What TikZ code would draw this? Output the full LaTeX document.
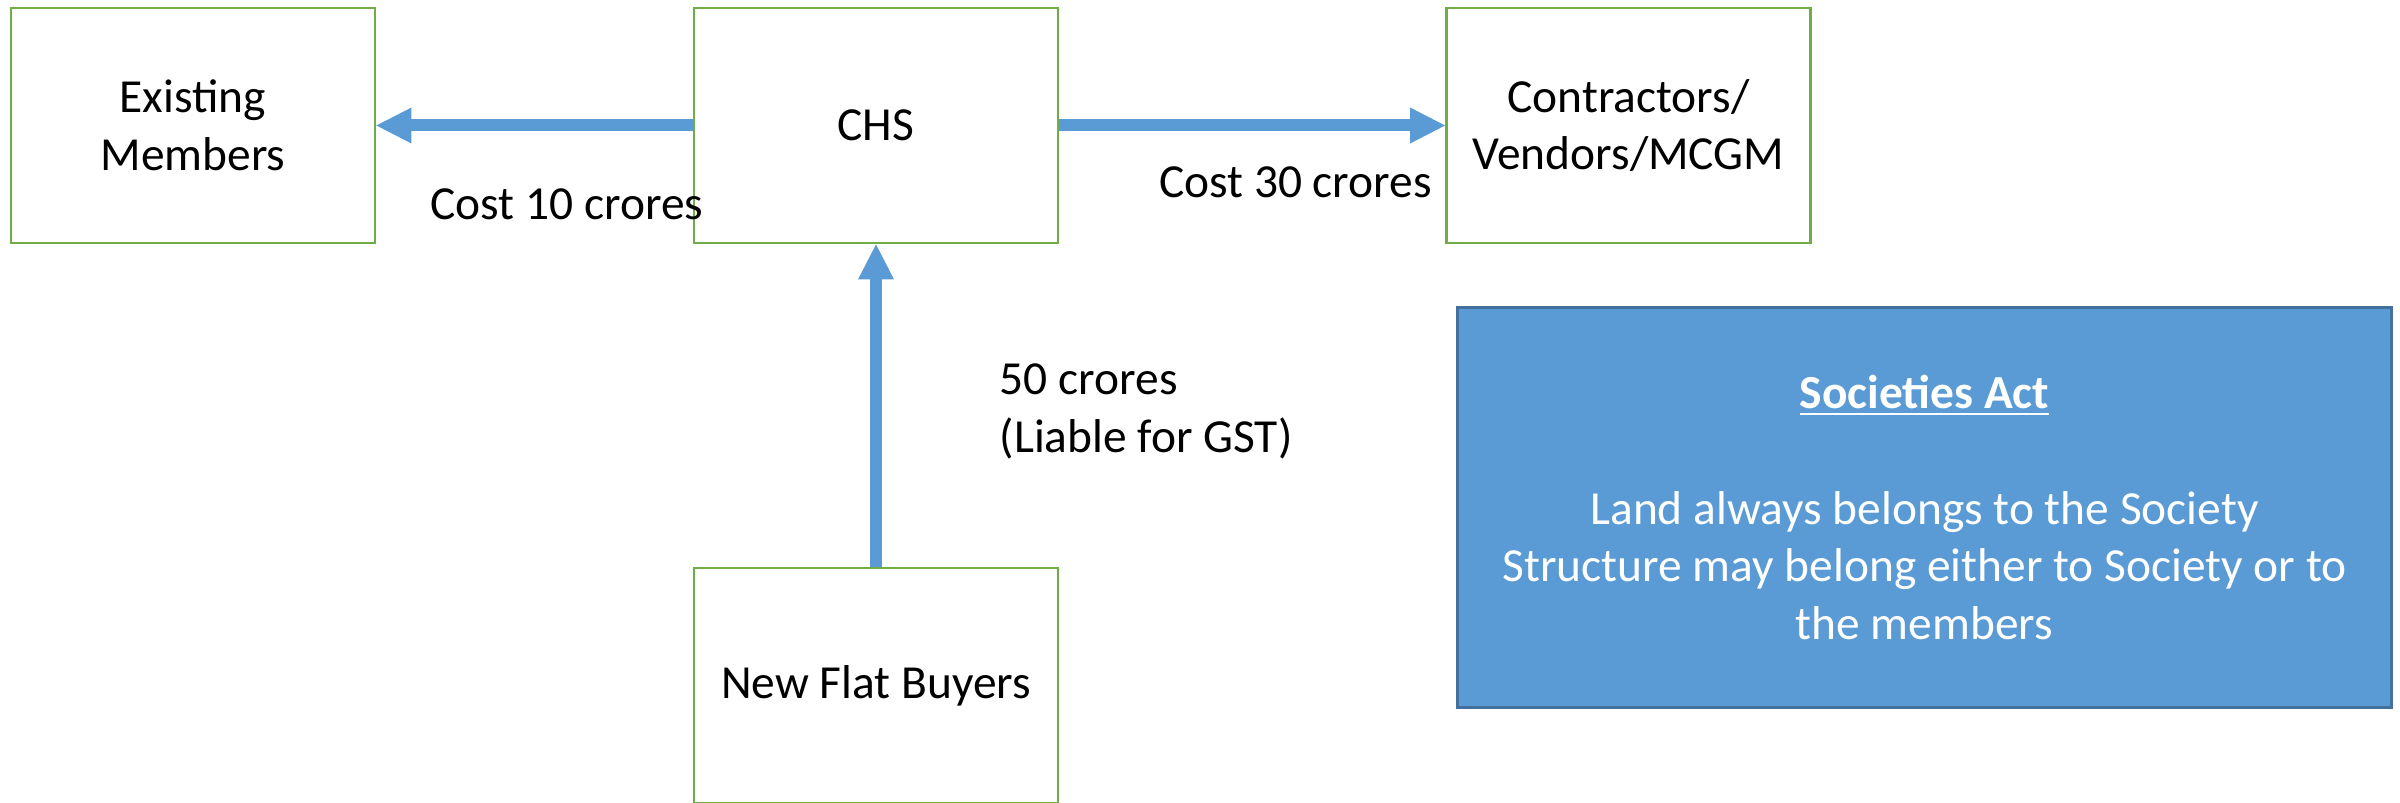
\documentclass[tikz,border=0pt]{standalone}
\usepackage{fontspec}
\setmainfont{Carlito}
\usetikzlibrary{arrows.meta}
\definecolor{boxgreen}{HTML}{70AD47}
\definecolor{flowblue}{HTML}{5B9BD5}
\definecolor{actborder}{HTML}{41719C}
\begin{document}
\begin{tikzpicture}[x=1cm,y=1cm,
  every node/.style={font=\fontsize{13.5}{16.4}\selectfont},
  entity/.style={draw=boxgreen, line width=0.8pt, minimum width=3.64cm, minimum height=2.35cm, align=center, inner sep=0pt},
  flow/.style={draw=flowblue, line width=0.12cm, -{Triangle[length=0.35cm,width=0.36cm,line width=0pt]}},
  lbl/.style={inner sep=0pt, anchor=base},
  actbox/.style={draw=actborder, fill=flowblue, line width=0.8pt, text=white, minimum width=9.34cm, minimum height=4.0cm, align=center, inner sep=0pt}]
\useasboundingbox (0,0) rectangle (24,8.02);
\node[entity] (em) at (1.93,6.765) {Existing\\Members};
\node[entity] (chs) at (8.76,6.765) {CHS};
\node[entity] (con) at (16.285,6.765) {Contractors/\\Vendors/MCGM};
\node[entity] (nfb) at (8.76,1.165) {New Flat Buyers};
\node[actbox] (act) at (19.245,2.945) {\underline{\textbf{Societies Act}}\\[16.4pt]Land always belongs to the Society\\Structure may belong either to Society or to\\the members};
\draw[flow] (chs.west) -- (em.east);
\draw[flow] (chs.east) -- (con.west);
\draw[flow] (nfb.north) -- (chs.south);
\node[lbl] (c10) at (5.67,5.82) {Cost 10 crores};
\node[lbl] (c30) at (12.955,6.04) {Cost 30 crores};
\node[lbl, anchor=base west, align=left] (c50) at (9.99,3.50) {50 crores\\(Liable for GST)};
\end{tikzpicture}
\end{document}
